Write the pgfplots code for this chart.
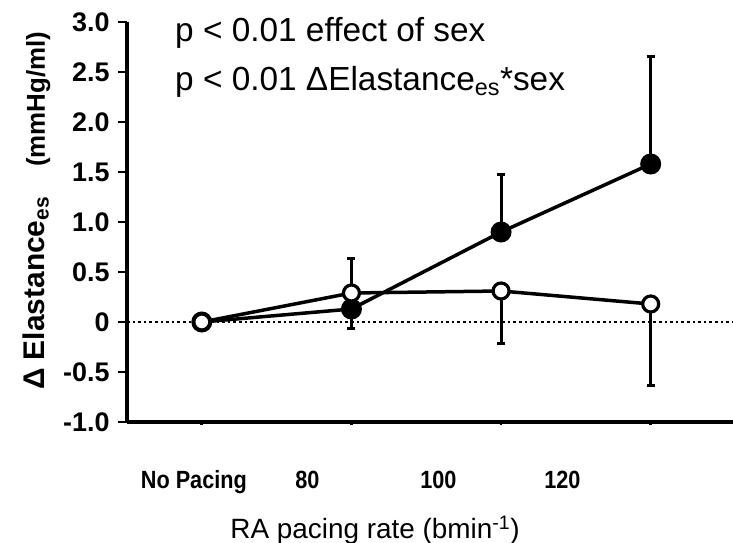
\documentclass[border=0pt]{standalone}
\usepackage{fontspec}
\setmainfont{Liberation Sans}
\usepackage{pgfplots}
\pgfplotsset{compat=1.18}

% Mean change in end-systolic elastance with SD bars
% filled: up-going error bars, open: down-going error bars
\pgfplotstableread{
x  y     e
0  0     0
1  0.13  0.51
2  0.90  0.58
3  1.58  1.08
}\filled
\pgfplotstableread{
x  y     e
0  0     0
1  0.29  0.35
2  0.31  0.52
3  0.18  0.81
}\open

\newcommand\condensed{\addfontfeature{FakeStretch=0.87}}

\begin{document}
\begin{tikzpicture}
\begin{axis}[
  name=ax,
  scale only axis,
  width=606bp, height=400bp,
  xmin=-0.5, xmax=3.55,
  ymin=-1, ymax=3,
  clip=false,
  axis x line*=bottom,
  axis y line*=left,
  axis line style={line width=3.2bp},
  tick style={line width=2.8bp, black},
  tick align=outside,
  major tick length=9bp,
  ytick={-1,-0.5,0,0.5,1,1.5,2,2.5,3},
  yticklabels={-1.0,-0.5,0,0.5,1.0,1.5,2.0,2.5,3.0},
  yticklabel style={font=\fontsize{27}{30}\selectfont\bfseries, xshift=-5bp},
  xtick={0,1,2,3},
  xticklabels={},
  x tick style={/pgfplots/major tick length=3bp},
  extra x ticks={-0.053,0.705,1.581,2.41},
  extra x tick labels={No Pacing,80,100,120},
  extra x tick style={tick style={draw=none},
    xticklabel style={font=\fontsize{25}{28}\selectfont\bfseries\condensed, anchor=base, yshift=-57bp}},
]
% zero reference line
\draw[line width=2.8bp, dash pattern=on 2.6bp off 3bp] (axis cs:-0.5,0) -- (axis cs:3.55,0);

\addplot[black, line width=3.5bp, mark=*, mark size=9.5bp,
  mark options={fill=black, line width=2bp},
  error bars/.cd, y dir=plus, y explicit,
  error bar style={line width=3bp},
  error mark options={rotate=90, mark size=4bp, line width=3bp}]
  table[x=x, y=y, y error=e] {\filled};

\addplot[black, line width=3.5bp, mark=*, mark size=8bp,
  mark options={fill=white, line width=3.2bp},
  error bars/.cd, y dir=minus, y explicit,
  error bar style={line width=3bp},
  error mark options={rotate=90, mark size=4bp, line width=3bp}]
  table[x=x, y=y, y error=e] {\open};
\end{axis}

% statistics annotation
\node[anchor=base west, inner sep=0pt, font=\fontsize{33.5}{37}\selectfont]
  at ([shift={(48bp,380bp)}]ax.south west) {p < 0.01 effect of sex};
\node[anchor=base west, inner sep=0pt, font=\fontsize{33.5}{37}\selectfont]
  at ([shift={(48bp,331bp)}]ax.south west) {p < 0.01 ΔElastance\textsubscript{es}*sex};

% axis titles
\node[anchor=base west, rotate=90, inner sep=0pt]
  at ([shift={(-82bp,32bp)}]ax.south west)
  {\fontsize{30}{34}\selectfont\bfseries Δ Elastance\textsubscript{es}\hspace{30bp}\fontsize{26}{30}\selectfont(mmHg/ml)};
\node[anchor=base, inner sep=0pt, font=\fontsize{28}{32}\selectfont]
  at ([shift={(248bp,-116bp)}]ax.south west) {RA pacing rate (bmin\textsuperscript{-1})};

\pgfresetboundingbox
\path[use as bounding box] ([shift={(-127bp,-121bp)}]ax.south west) rectangle ([shift={(606bp,422bp)}]ax.south west);
\end{tikzpicture}
\end{document}
